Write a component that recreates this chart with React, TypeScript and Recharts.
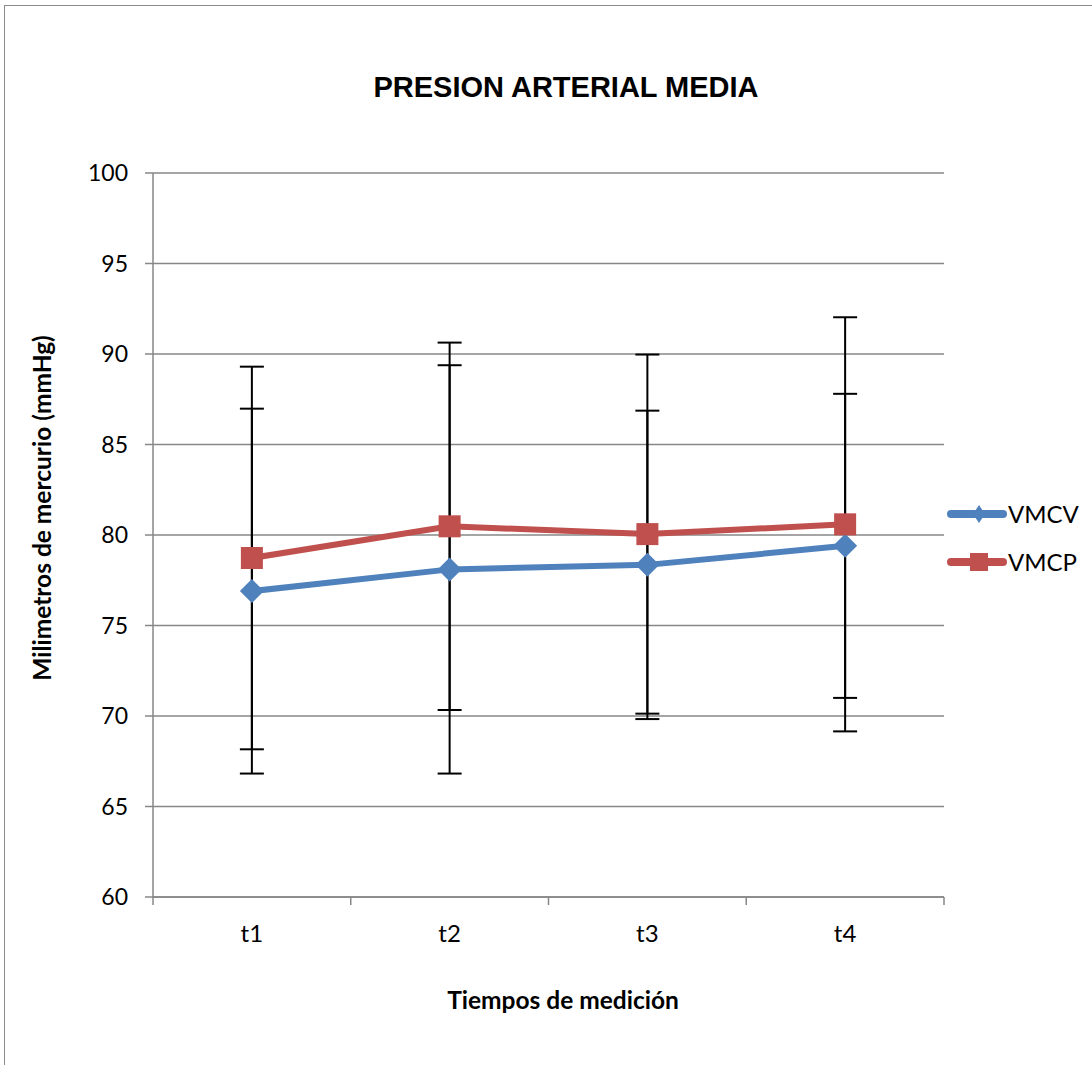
import { LineChart, Line, XAxis, YAxis, CartesianGrid, ErrorBar } from "recharts";

const categories = ["t1", "t2", "t3", "t4"];
const vmcv = [76.9, 78.1, 78.35, 79.4];
const vmcvErr = [10.08, 11.28, 8.52, 8.4];
const vmcp = [78.73, 80.48, 80.05, 80.59];
const vmcpErr = [10.57, 10.15, 9.92, 11.44];
const yTicks = [60, 65, 70, 75, 80, 85, 90, 95, 100];

const BLUE = "#4F81BD";
const RED = "#C0504D";
const GRID = "#878787";
const FONT = "Lato, 'Open Sans', sans-serif";

const data = categories.map((c, i) => ({
  name: c,
  vmcv: vmcv[i],
  vmcvErr: vmcvErr[i],
  vmcp: vmcp[i],
  vmcpErr: vmcpErr[i],
}));

function diamondDot(props: any) {
  const { cx, cy, index } = props;
  const r = 12;
  return (
    <path
      key={`dv-${index}`}
      d={`M${cx},${cy - r}L${cx + r},${cy}L${cx},${cy + r}L${cx - r},${cy}Z`}
      fill={BLUE}
    />
  );
}

function squareDot(props: any) {
  const { cx, cy, index } = props;
  const h = 11;
  return <rect key={`sq-${index}`} x={cx - h} y={cy - h} width={h * 2} height={h * 2} fill={RED} />;
}

function CategoryTick(props: any) {
  const { x, y, payload, index, visibleTicksCount } = props;
  // band scale: offset is half the band width
  const half = payload.offset ?? 0;
  return (
    <g>
      <line x1={x - half} y1={y} x2={x - half} y2={y + 8} stroke={GRID} strokeWidth={1.5} />
      {index === visibleTicksCount - 1 && (
        <line x1={x + half} y1={y} x2={x + half} y2={y + 8} stroke={GRID} strokeWidth={1.5} />
      )}
      <text x={x} y={y + 45} textAnchor="middle" fontSize={24} fontFamily={FONT} fill="#000">
        {payload.value}
      </text>
    </g>
  );
}

export default function App() {
  return (
    <div style={{ position: "absolute", left: 0, top: 0, width: 1092, height: 1065, overflow: "hidden", background: "#fff" }}>
      <div
        style={{
          position: "absolute",
          left: 4,
          top: 5,
          width: 1200,
          height: 1200,
          border: "1.5px solid #8a8a8a",
        }}
      />
      <div style={{ position: "absolute", left: 0, top: 0 }}>
        <LineChart width={1092} height={1065} data={data} margin={{ top: 173, right: 148, bottom: 108, left: 0 }}>
          <CartesianGrid vertical={false} stroke={GRID} strokeWidth={1.5} />
          <XAxis
            dataKey="name"
            scale="band"
            height={60}
            tickLine={false}
            tickSize={0}
            tickMargin={0}
            axisLine={{ stroke: GRID, strokeWidth: 1.5 }}
            tick={<CategoryTick />}
            interval={0}
          />
          <YAxis
            domain={[60, 100]}
            ticks={yTicks}
            width={153}
            tickSize={8}
            tickMargin={17}
            axisLine={{ stroke: GRID, strokeWidth: 1.5 }}
            tickLine={{ stroke: GRID, strokeWidth: 1.5 }}
            tick={{ fontSize: 23, fontFamily: FONT, fill: "#000" }}
            allowDataOverflow
          />
          <Line
            dataKey="vmcv"
            stroke={BLUE}
            strokeWidth={6}
            dot={diamondDot}
            isAnimationActive={false}
          >
            <ErrorBar dataKey="vmcvErr" width={12} stroke="#000" strokeWidth={2} direction="y" />
          </Line>
          <Line
            dataKey="vmcp"
            stroke={RED}
            strokeWidth={6}
            dot={squareDot}
            isAnimationActive={false}
          >
            <ErrorBar dataKey="vmcpErr" width={12} stroke="#000" strokeWidth={2} direction="y" />
          </Line>
        </LineChart>
      </div>
      <svg width={1092} height={1065} style={{ position: "absolute", left: 0, top: 0, pointerEvents: "none" }}>
        <text x={566} y={97} textAnchor="middle" fontSize={29} fontWeight="bold" fontFamily="'Liberation Sans', Arial, sans-serif">
          PRESION ARTERIAL MEDIA
        </text>
        <text
          transform="translate(51,508) rotate(-90)"
          textAnchor="middle"
          fontSize={24.5}
          fontWeight="bold"
          fontFamily={FONT}
        >
          Milimetros de mercurio (mmHg)
        </text>
        <text x={563} y={1009} textAnchor="middle" fontSize={24.5} fontWeight="bold" fontFamily={FONT}>
          Tiempos de medición
        </text>
        <g>
          <line x1={951} y1={514} x2={1003} y2={514} stroke={BLUE} strokeWidth={8} strokeLinecap="round" />
          <path d="M979,505L985,514L979,523L973,514Z" fill={BLUE} />
          <text x={1008} y={523} fontSize={24} fontFamily={FONT}>VMCV</text>
          <line x1={951} y1={562} x2={1003} y2={562} stroke={RED} strokeWidth={8} strokeLinecap="round" />
          <rect x={970} y={553} width={18} height={18} fill={RED} />
          <text x={1008} y={571} fontSize={24} fontFamily={FONT}>VMCP</text>
        </g>
      </svg>
    </div>
  );
}
